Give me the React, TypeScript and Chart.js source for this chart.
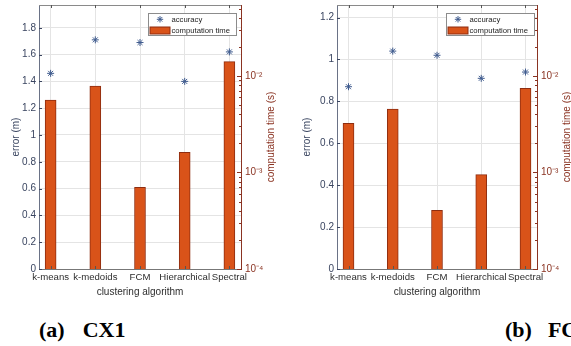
import React, { useEffect, useRef } from 'react';
import { Chart, registerables } from 'chart.js';
Chart.register(...registerables);

const categories = ['k-means', 'k-medoids', 'FCM', 'Hierarchical', 'Spectral'];
const errorCX1 = [1.46, 1.71, 1.69, 1.40, 1.62];
const timeCX1 = [0.00564, 0.00788, 0.000703, 0.00162, 0.0141];
const errorFC1 = [0.87, 1.04, 1.02, 0.91, 0.94];
const timeFC1 = [0.00324, 0.00455, 0.000405, 0.00095, 0.00746];
const errorTicksCX1 = [0, 0.2, 0.4, 0.6, 0.8, 1, 1.2, 1.4, 1.6, 1.8];
const errorTicksFC1 = [0, 0.2, 0.4, 0.6, 0.8, 1, 1.2];
const timeTicks = [
  1e-4, 2e-4, 3e-4, 4e-4, 5e-4, 6e-4, 7e-4, 8e-4, 9e-4,
  1e-3, 2e-3, 3e-3, 4e-3, 5e-3, 6e-3, 7e-3, 8e-3, 9e-3,
  1e-2, 2e-2, 3e-2, 4e-2, 5e-2,
];
const legendLabels = ['accuracy', 'computation time'];
const axisTitles = { x: 'clustering algorithm', y: 'error (m)', y2: 'computation time (s)' };

const FONT = '"Liberation Sans", Arial, sans-serif';
const LEFT_COLOR = '#3a4560';
const RIGHT_COLOR = '#8a3322';
const STAR_COLOR = '#3f5b8e';
const BAR_FILL = '#D95319';
const BAR_EDGE = '#8e2d10';
const GRID = '#e4e4e4';
const TEXT = '#2e2e2e';

const SUP: Record<string, string> = { '-': '\u207B', '0': '\u2070', '1': '\u00B9', '2': '\u00B2', '3': '\u00B3', '4': '\u2074', '5': '\u2075', '6': '\u2076', '7': '\u2077', '8': '\u2078', '9': '\u2079' };
const sup = (s: string) => s.split('').map((c) => SUP[c] || c).join('');

function isPow10(v: number) {
  const l = Math.log10(v);
  return Math.abs(l - Math.round(l)) < 1e-6;
}

function drawStar(ctx: CanvasRenderingContext2D, x: number, y: number, r: number) {
  ctx.beginPath();
  for (let k = 0; k < 4; k++) {
    const ang = (k * Math.PI) / 4;
    ctx.moveTo(x - r * Math.cos(ang), y - r * Math.sin(ang));
    ctx.lineTo(x + r * Math.cos(ang), y + r * Math.sin(ang));
  }
  ctx.stroke();
}

const decor = {
  id: 'decor',
  afterDraw(chart: any, _args: any, opts: any) {
    const { ctx, chartArea: a, scales } = chart;
    ctx.save();
    ctx.lineWidth = 1;
    ctx.strokeStyle = '#8a8a8a';
    ctx.beginPath();
    ctx.moveTo(a.left, Math.round(a.top) + 0.5);
    ctx.lineTo(a.right, Math.round(a.top) + 0.5);
    ctx.stroke();
    ctx.strokeStyle = '#555';
    scales.x.ticks.forEach((t: any) => {
      const px = Math.round(scales.x.getPixelForValue(t.value)) + 0.5;
      ctx.beginPath();
      ctx.moveTo(px, a.bottom);
      ctx.lineTo(px, a.bottom - 3);
      ctx.moveTo(px, a.top);
      ctx.lineTo(px, a.top + 3);
      ctx.stroke();
    });
    ctx.strokeStyle = LEFT_COLOR;
    scales.y.ticks.forEach((t: any) => {
      const py = Math.round(scales.y.getPixelForValue(t.value)) + 0.5;
      ctx.beginPath();
      ctx.moveTo(a.left, py);
      ctx.lineTo(a.left + 3, py);
      ctx.stroke();
    });
    ctx.strokeStyle = RIGHT_COLOR;
    scales.y2.ticks.forEach((t: any) => {
      const py = Math.round(scales.y2.getPixelForValue(t.value)) + 0.5;
      const len = isPow10(t.value) ? 4 : 2;
      ctx.beginPath();
      ctx.moveTo(a.right, py);
      ctx.lineTo(a.right - len, py);
      ctx.stroke();
    });
    ctx.font = `10px ${FONT}`;
    ctx.textAlign = 'center';
    ctx.textBaseline = 'middle';
    const cy = (a.top + a.bottom) / 2;
    ctx.fillStyle = TEXT;
    ctx.fillText(axisTitles.x, (a.left + a.right) / 2, a.bottom + 23);
    ctx.save();
    ctx.translate(a.left - opts.yTitleOffset, cy);
    ctx.rotate(-Math.PI / 2);
    ctx.fillStyle = LEFT_COLOR;
    ctx.fillText(axisTitles.y, 0, 0);
    ctx.restore();
    ctx.save();
    ctx.translate(a.right + opts.y2TitleOffset, cy);
    ctx.rotate(-Math.PI / 2);
    ctx.fillStyle = RIGHT_COLOR;
    ctx.fillText(axisTitles.y2, 0, 0);
    ctx.restore();
    const bw = 88, bh = 22;
    const bx = Math.round(a.right - opts.legendInset - bw) + 0.5;
    const by = Math.round(a.top + 7.5) + 0.5;
    ctx.fillStyle = '#fff';
    ctx.fillRect(bx, by, bw, bh);
    ctx.strokeStyle = '#8c8c8c';
    ctx.strokeRect(bx, by, bw, bh);
    ctx.strokeStyle = STAR_COLOR;
    drawStar(ctx, bx + 11.5, by + 5.8, 3.2);
    ctx.fillStyle = BAR_FILL;
    ctx.fillRect(bx + 1.5, by + 13.5, 20, 7);
    ctx.strokeStyle = BAR_EDGE;
    ctx.strokeRect(bx + 1.5, by + 13.5, 20, 7);
    ctx.font = `7.7px ${FONT}`;
    ctx.textAlign = 'left';
    ctx.fillStyle = '#222';
    ctx.fillText(legendLabels[0], bx + 23, by + 6);
    ctx.fillText(legendLabels[1], bx + 23, by + 17);
    ctx.restore();
  },
};

type PanelProps = {
  errors: number[];
  times: number[];
  errorTicks: number[];
  yMax: number;
  yWidth: number;
  y2Width: number;
  width: number;
  left: number;
  yTitleOffset: number;
  legendInset: number;
};

function Panel(p: PanelProps) {
  const ref = useRef<HTMLCanvasElement | null>(null);
  useEffect(() => {
    if (!ref.current) return;
    const chart = new Chart(ref.current, {
      type: 'bar',
      data: {
        datasets: [
          {
            type: 'scatter',
            label: legendLabels[0],
            data: p.errors.map((v, i) => ({ x: i, y: v })),
            yAxisID: 'y',
            pointStyle: 'star',
            pointRadius: 3.5,
            pointBorderColor: STAR_COLOR,
            pointBackgroundColor: STAR_COLOR,
            pointBorderWidth: 1,
            showLine: false,
          } as any,
          {
            type: 'bar',
            label: legendLabels[1],
            data: p.times.map((v, i) => ({ x: i, y: v })),
            yAxisID: 'y2',
            backgroundColor: BAR_FILL,
            borderColor: BAR_EDGE,
            borderWidth: 1,
            barThickness: 11,
          } as any,
        ],
      },
      options: {
        animation: false,
        responsive: false,
        layout: { padding: { top: 5, left: 0, right: 0, bottom: 0 } },
        plugins: {
          legend: { display: false },
          tooltip: { enabled: false },
          decor: { yTitleOffset: p.yTitleOffset, y2TitleOffset: 30, legendInset: p.legendInset },
        } as any,
        scales: {
          x: {
            type: 'linear',
            offset: false,
            min: -0.26,
            max: 4.26,
            afterBuildTicks: (s: any) => {
              s.ticks = categories.map((_, i) => ({ value: i }));
            },
            afterFit: (s: any) => {
              s.height = 31;
              s.paddingLeft = 0;
              s.paddingRight = 0;
            },
            ticks: {
              autoSkip: false,
              maxRotation: 0,
              padding: 3,
              color: TEXT,
              font: { family: FONT, size: 9.6 },
              callback: (v: any) => categories[v] ?? '',
            },
            grid: { color: GRID, drawTicks: false, offset: false },
            border: { color: '#777', width: 1 },
          },
          y: {
            type: 'linear',
            position: 'left',
            min: 0,
            max: p.yMax,
            afterBuildTicks: (s: any) => {
              s.ticks = p.errorTicks.map((v) => ({ value: v }));
            },
            afterFit: (s: any) => {
              s.width = p.yWidth;
              s.paddingTop = 0;
              s.paddingBottom = 0;
            },
            ticks: {
              padding: 3,
              color: LEFT_COLOR,
              font: { family: FONT, size: 10 },
              callback: (v: any) => String(Math.round(v * 10) / 10),
            },
            grid: { color: GRID, drawTicks: false },
            border: { color: '#6a7286', width: 1 },
          },
          y2: {
            type: 'logarithmic',
            position: 'right',
            min: 1e-4,
            max: 0.0544,
            afterBuildTicks: (s: any) => {
              s.ticks = timeTicks.map((v) => ({ value: v }));
            },
            afterFit: (s: any) => {
              s.width = p.y2Width;
              s.paddingTop = 0;
              s.paddingBottom = 0;
            },
            ticks: {
              autoSkip: false,
              padding: 4,
              color: RIGHT_COLOR,
              font: { family: FONT, size: 10 },
              callback: (v: any) => (isPow10(v) ? '10' + sup(String(Math.round(Math.log10(v)))) : ''),
            },
            grid: { display: true, drawOnChartArea: false, drawTicks: false },
            border: { color: RIGHT_COLOR, width: 1 },
          },
        },
      } as any,
      plugins: [decor],
    });
    return () => chart.destroy();
  }, []);
  return (
    <canvas
      ref={ref}
      width={p.width}
      height={300}
      style={{ position: 'absolute', left: p.left, top: 0, width: p.width, height: 300 }}
    />
  );
}

const captionStyle: React.CSSProperties = {
  position: 'absolute',
  top: 319,
  fontFamily: '"Liberation Serif", "Times New Roman", serif',
  fontWeight: 'bold',
  fontSize: 22,
  lineHeight: '22px',
  whiteSpace: 'nowrap',
  color: '#000',
};

export default function App() {
  return (
    <div style={{ position: 'fixed', left: 0, top: 0, width: 571, height: 346, overflow: 'hidden', background: '#fff' }}>
      <Panel errors={errorCX1} times={timeCX1} errorTicks={errorTicksCX1} yMax={1.97} yWidth={39} y2Width={44} width={285} left={0} yTitleOffset={23} legendInset={5} />
      <Panel errors={errorFC1} times={timeFC1} errorTicks={errorTicksFC1} yMax={1.26} yWidth={47} y2Width={43} width={290} left={290} yTitleOffset={30} legendInset={3.5} />
      <div style={{ ...captionStyle, left: 39 }}>
        <span>(a)</span>
        <span style={{ marginLeft: 18 }}>CX1</span>
      </div>
      <div style={{ ...captionStyle, left: 505 }}>
        <span>(b)</span>
        <span style={{ marginLeft: 16 }}>FC1</span>
      </div>
    </div>
  );
}
